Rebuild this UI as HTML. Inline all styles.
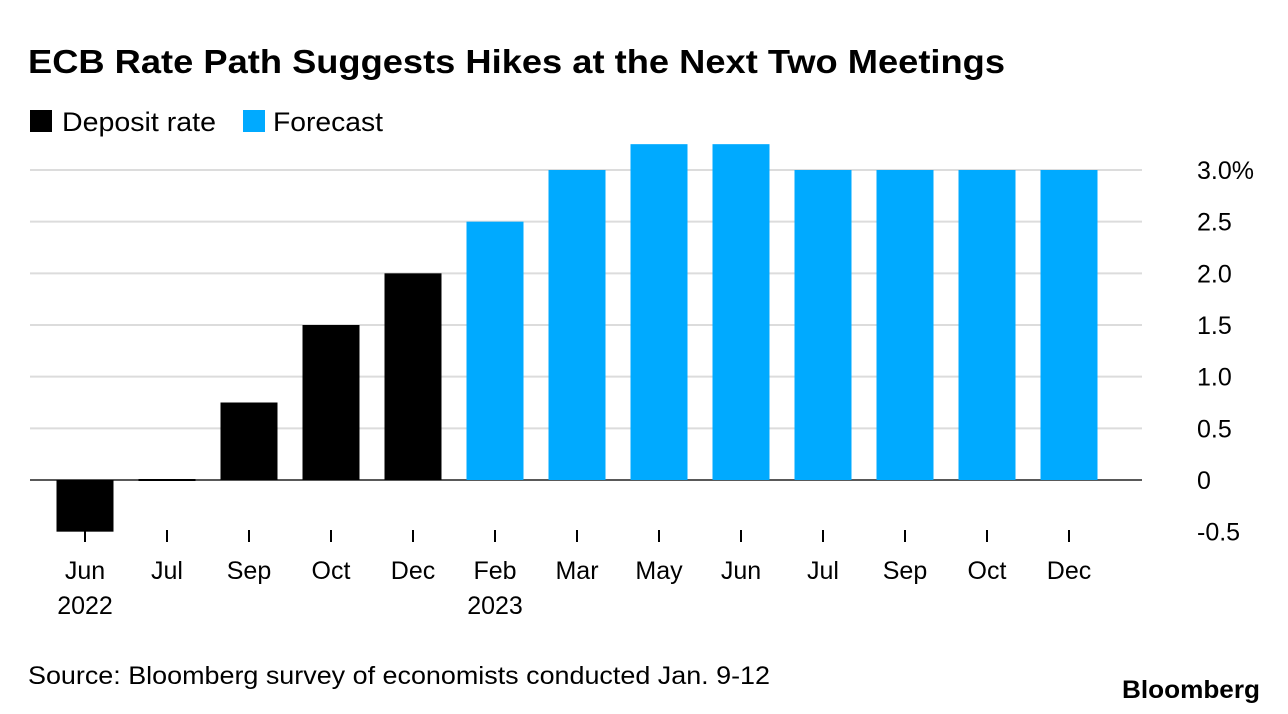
<!DOCTYPE html>
<html><head><meta charset="utf-8">
<style>
body{margin:0;background:#fff;font-family:"Liberation Sans",sans-serif;}
svg{display:block}
</style></head>
<body>
<svg id="chart" width="1288" height="714">
<text x="28" y="73" font-size="33" font-weight="bold" fill="#000" textLength="977" lengthAdjust="spacingAndGlyphs">ECB Rate Path Suggests Hikes at the Next Two Meetings</text>
<g>
<rect x="30" y="110" width="22" height="22" fill="#000"/>
<text x="62" y="131" font-size="27" fill="#000" textLength="154" lengthAdjust="spacingAndGlyphs">Deposit rate</text>
<rect x="243" y="110" width="22" height="22" fill="#00aaff"/>
<text x="273" y="131" font-size="27" fill="#000" textLength="110" lengthAdjust="spacingAndGlyphs">Forecast</text>
</g>
<g id="grid"></g>
<g id="bars"></g>
<g id="xaxis"></g>
<text x="28" y="684" font-size="25" fill="#000" textLength="742" lengthAdjust="spacingAndGlyphs">Source: Bloomberg survey of economists conducted Jan. 9-12</text>
<text x="1122" y="698" font-size="25" font-weight="bold" fill="#000" textLength="138" lengthAdjust="spacingAndGlyphs">Bloomberg</text>
</svg>
<script>
const categories=["Jun","Jul","Sep","Oct","Dec","Feb","Mar","May","Jun","Jul","Sep","Oct","Dec"];
const years=["2022","","","","","2023","","","","","","",""];
const values=[-0.5,0,0.75,1.5,2.0,2.5,3.0,3.25,3.25,3.0,3.0,3.0,3.0];
const isForecast=[false,false,false,false,false,true,true,true,true,true,true,true,true];
const yTicks=[-0.5,0,0.5,1.0,1.5,2.0,2.5,3.0];
const yTickLabels=["-0.5","0","0.5","1.0","1.5","2.0","2.5","3.0%"];
const NS="http://www.w3.org/2000/svg";
function y(v){return 480-v*(310/3);}
function x(i){return 85+i*82;}
const bw=57;
const grid=document.getElementById('grid');
yTicks.forEach((t,i)=>{
  if(t>-0.5){
    const l=document.createElementNS(NS,'line');
    l.setAttribute('x1',30);l.setAttribute('x2',1142);
    l.setAttribute('y1',y(t));l.setAttribute('y2',y(t));
    l.setAttribute('stroke',t===0?'#222':'#dcdcdc');l.setAttribute('stroke-width',t===0?1.5:2);
    
    
    grid.appendChild(l);
  }
  const tx=document.createElementNS(NS,'text');
  tx.setAttribute('x',1197);tx.setAttribute('y',y(t)+9);
  tx.setAttribute('font-size','25');tx.textContent=yTickLabels[i];
  
  
  grid.appendChild(tx);
});
const bars=document.getElementById('bars');
values.forEach((v,i)=>{
  const r=document.createElementNS(NS,'rect');
  let top=Math.min(y(v),y(0)),h=Math.abs(y(v)-y(0));
  if(h<2){h=2;top=y(0)-1;}
  r.setAttribute('x',x(i)-bw/2);r.setAttribute('y',top);
  r.setAttribute('width',bw);r.setAttribute('height',h);
  r.setAttribute('fill',isForecast[i]?'#00aaff':'#000');
  
  
  bars.appendChild(r);
});
const xa=document.getElementById('xaxis');
categories.forEach((c,i)=>{
  const tk=document.createElementNS(NS,'line');
  tk.setAttribute('x1',x(i));tk.setAttribute('x2',x(i));
  tk.setAttribute('y1',530);tk.setAttribute('y2',542);
  tk.setAttribute('stroke','#000');tk.setAttribute('stroke-width',2);
  
  
  xa.appendChild(tk);
  const t=document.createElementNS(NS,'text');
  t.setAttribute('x',x(i));t.setAttribute('y',579);
  t.setAttribute('font-size','25');t.setAttribute('text-anchor','middle');
  t.textContent=c;
  
  
  xa.appendChild(t);
  if(years[i]){
    const yt=document.createElementNS(NS,'text');
    yt.setAttribute('x',x(i));yt.setAttribute('y',614);
    yt.setAttribute('font-size','25');yt.setAttribute('text-anchor','middle');
    yt.textContent=years[i];
    
    
    xa.appendChild(yt);
  }
});
</script>
</body></html>
